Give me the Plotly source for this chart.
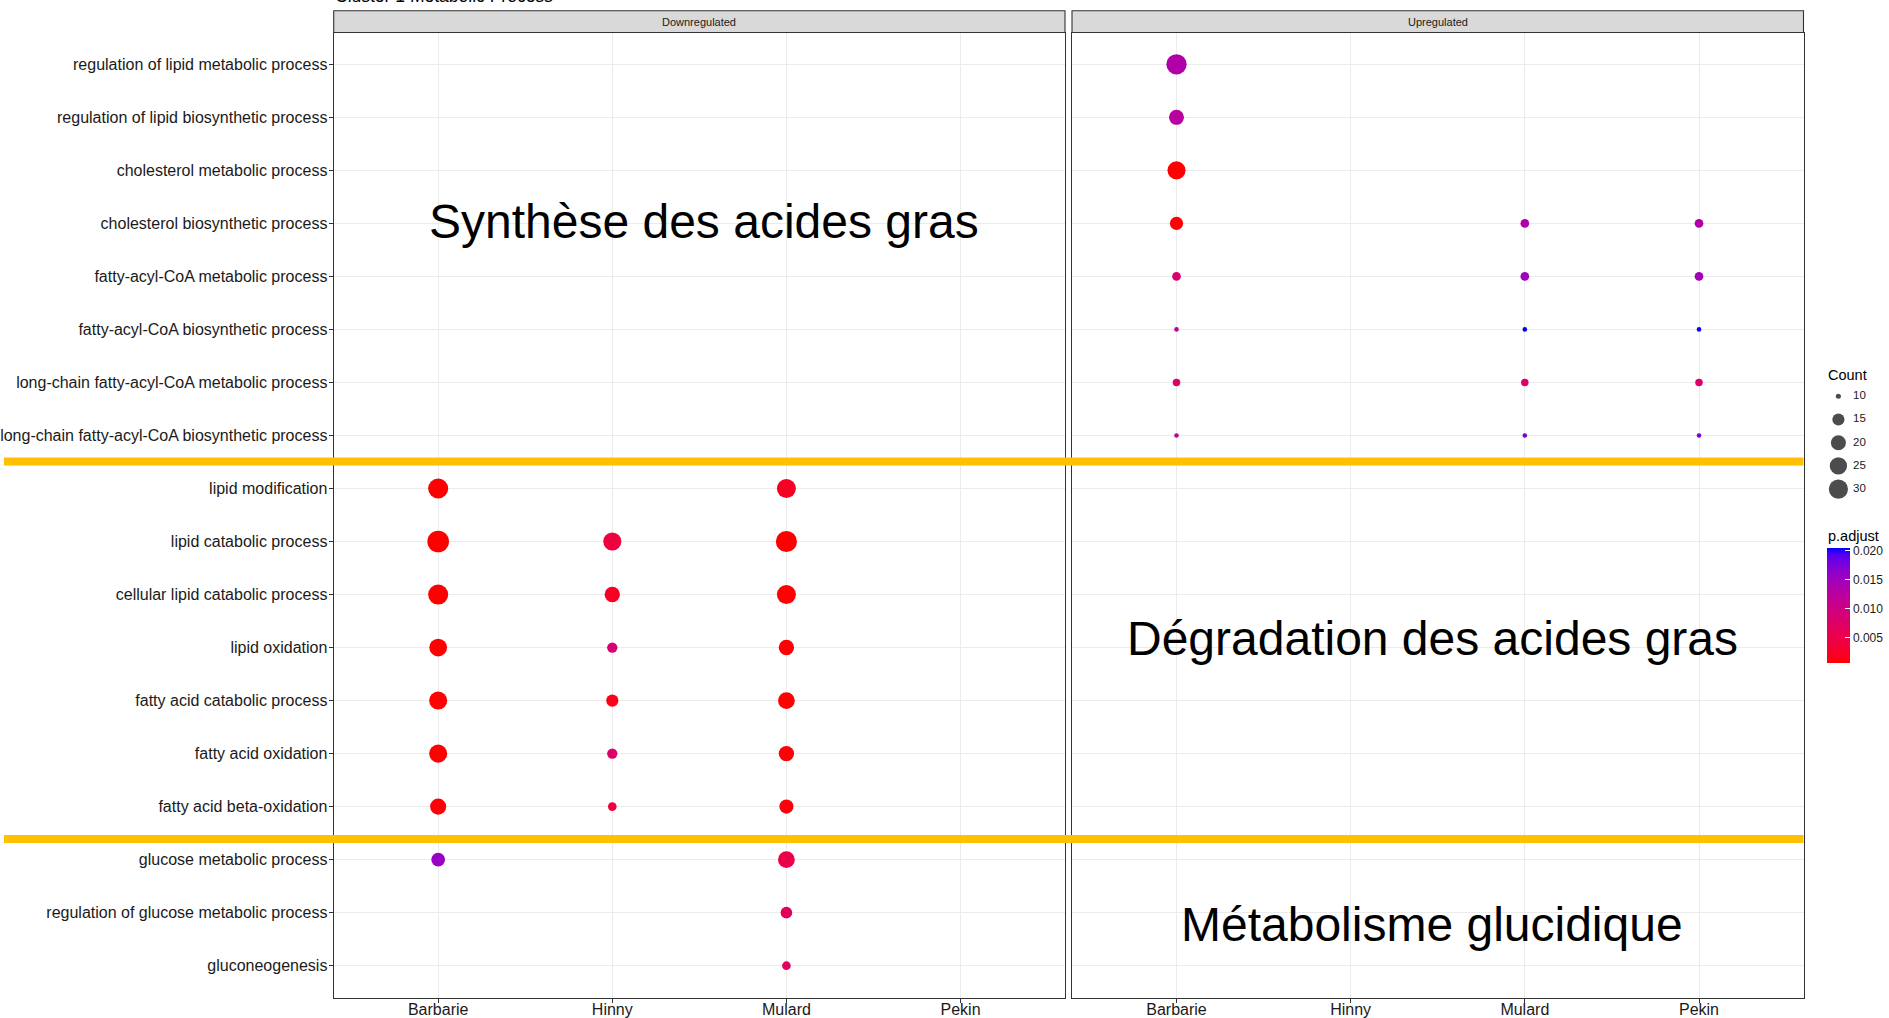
import numpy as np
import plotly.graph_objects as go

# ---------------- data ----------------
TERMS = [
    "regulation of lipid metabolic process",
    "regulation of lipid biosynthetic process",
    "cholesterol metabolic process",
    "cholesterol biosynthetic process",
    "fatty-acyl-CoA metabolic process",
    "fatty-acyl-CoA biosynthetic process",
    "long-chain fatty-acyl-CoA metabolic process",
    "long-chain fatty-acyl-CoA biosynthetic process",
    "lipid modification",
    "lipid catabolic process",
    "cellular lipid catabolic process",
    "lipid oxidation",
    "fatty acid catabolic process",
    "fatty acid oxidation",
    "fatty acid beta-oxidation",
    "glucose metabolic process",
    "regulation of glucose metabolic process",
    "gluconeogenesis",
]
BREEDS = ["Barbarie", "Hinny", "Mulard", "Pekin"]
PANELS = ["Downregulated", "Upregulated"]

down_breed = (["Barbarie"] * 8 + ["Hinny"] * 6 + ["Mulard"] * 10)
down_term = [
    "lipid modification", "lipid catabolic process", "cellular lipid catabolic process",
    "lipid oxidation", "fatty acid catabolic process", "fatty acid oxidation",
    "fatty acid beta-oxidation", "glucose metabolic process",
    "lipid catabolic process", "cellular lipid catabolic process", "lipid oxidation",
    "fatty acid catabolic process", "fatty acid oxidation", "fatty acid beta-oxidation",
    "lipid modification", "lipid catabolic process", "cellular lipid catabolic process",
    "lipid oxidation", "fatty acid catabolic process", "fatty acid oxidation",
    "fatty acid beta-oxidation", "glucose metabolic process",
    "regulation of glucose metabolic process", "gluconeogenesis",
]
down_count = [39, 45, 39, 31, 32, 32, 26, 20,
              32, 24, 14, 17, 14, 12,
              35, 43, 35, 24, 28, 24, 21, 28, 16, 12]
down_padj = [0.0007, 0.0006, 0.0006, 0.0007, 0.0007, 0.0007, 0.0008, 0.0156,
             0.0042, 0.0022, 0.0085, 0.0016, 0.0079, 0.0042,
             0.0022, 0.0006, 0.0007, 0.0008, 0.0007, 0.0009, 0.0010, 0.0050, 0.0065, 0.0066]

up_breed = (["Barbarie"] * 8 + ["Mulard"] * 5 + ["Pekin"] * 5)
up_term = [
    "regulation of lipid metabolic process", "regulation of lipid biosynthetic process",
    "cholesterol metabolic process", "cholesterol biosynthetic process",
    "fatty-acyl-CoA metabolic process", "fatty-acyl-CoA biosynthetic process",
    "long-chain fatty-acyl-CoA metabolic process", "long-chain fatty-acyl-CoA biosynthetic process",
    "cholesterol biosynthetic process", "fatty-acyl-CoA metabolic process",
    "fatty-acyl-CoA biosynthetic process", "long-chain fatty-acyl-CoA metabolic process",
    "long-chain fatty-acyl-CoA biosynthetic process",
    "cholesterol biosynthetic process", "fatty-acyl-CoA metabolic process",
    "fatty-acyl-CoA biosynthetic process", "long-chain fatty-acyl-CoA metabolic process",
    "long-chain fatty-acyl-CoA biosynthetic process",
]
up_count = [40, 23, 32, 19, 12, 10, 11, 10,
            12, 12, 10, 11, 10,
            12, 12, 10, 11, 10]
up_padj = [0.0133, 0.0125, 0.0007, 0.0008, 0.0081, 0.0115, 0.0071, 0.0115,
           0.0135, 0.0149, 0.0204, 0.0075, 0.0176,
           0.0133, 0.0145, 0.0202, 0.0079, 0.0172]

SIZE_BREAKS = [10, 15, 20, 25, 30]
PADJ_TICKS = [0.005, 0.010, 0.015, 0.020]

SECTION_LABELS = ["Synthèse des acides gras", "Dégradation des acides gras", "Métabolisme glucidique"]
TITLE = "Cluster 1 Metabolic Process"

# ---------------- styling helpers ----------------
W, H = 1889, 1018
FONT = "Liberation Sans, Arial, Helvetica, sans-serif"

all_counts = down_count + up_count
all_padj = down_padj + up_padj
CNT_MIN, CNT_MAX = min(all_counts), max(all_counts)
P_MIN, P_MAX = min(all_padj), max(all_padj)


def diam(c):
    c = np.asarray(c, dtype=float)
    frac = np.clip((c - CNT_MIN) / (CNT_MAX - CNT_MIN), 0, 1)
    return 3.4 * (1 + 5 * np.sqrt(frac)) + 1.2


def _lin(u):
    return u / 12.92 if u <= 0.04045 else ((u + 0.055) / 1.055) ** 2.4


def _gam(u):
    u = min(max(u, 0.0), 1.0)
    return 12.92 * u if u <= 0.0031308 else 1.055 * u ** (1 / 2.4) - 0.055


def rgb2lab(r, g, b):
    R, G, B = _lin(r / 255), _lin(g / 255), _lin(b / 255)
    X = 0.4124 * R + 0.3576 * G + 0.1805 * B
    Y = 0.2126 * R + 0.7152 * G + 0.0722 * B
    Z = 0.0193 * R + 0.1192 * G + 0.9505 * B
    Xn, Yn, Zn = 0.95047, 1.0, 1.08883

    def f(t):
        return t ** (1 / 3) if t > 0.008856 else 7.787 * t + 16 / 116
    fx, fy, fz = f(X / Xn), f(Y / Yn), f(Z / Zn)
    return 116 * fy - 16, 500 * (fx - fy), 200 * (fy - fz)


def lab2rgb(L, a, b):
    fy = (L + 16) / 116
    fx = fy + a / 500
    fz = fy - b / 200

    def finv(t):
        return t ** 3 if t ** 3 > 0.008856 else (t - 16 / 116) / 7.787
    X, Y, Z = 0.95047 * finv(fx), finv(fy), 1.08883 * finv(fz)
    R = 3.2406 * X - 1.5372 * Y - 0.4986 * Z
    G = -0.9689 * X + 1.8758 * Y + 0.0415 * Z
    B = 0.0557 * X - 0.2040 * Y + 1.0570 * Z
    return tuple(int(round(255 * _gam(v))) for v in (R, G, B))


lab_lo = rgb2lab(255, 0, 0)
lab_hi = rgb2lab(0, 0, 255)
colorscale = []
for t in np.linspace(0, 1, 21):
    lab = [lo + (hi - lo) * t for lo, hi in zip(lab_lo, lab_hi)]
    r, g, b = lab2rgb(*lab)
    colorscale.append([float(t), f"rgb({r},{g},{b})"])

# panel geometry (pixels -> paper)
PX_L = [(333.7, 1065.0), (1072.0, 1803.5)]
PANEL_TOP, PANEL_BOT = 32.5, 997.5
STRIP_TOP = 10.8


def px(x):
    return x / W


def py(y):
    return 1 - y / H


fig = go.Figure()

for i, (b, t, c, p) in enumerate([(down_breed, down_term, down_count, down_padj),
                                   (up_breed, up_term, up_count, up_padj)]):
    xa = "x" if i == 0 else "x2"
    ya = "y" if i == 0 else "y2"
    fig.add_trace(go.Scatter(
        x=b, y=t, mode="markers", xaxis=xa, yaxis=ya,
        marker=dict(size=diam(c), sizemode="diameter", color=p, coloraxis="coloraxis",
                    line=dict(width=0), opacity=1),
        hoverinfo="x+y+text", text=[f"Count={cc}, p.adjust={pp}" for cc, pp in zip(c, p)],
        showlegend=False,
    ))

# size legend (own axes, drawn without lines)
LEG_X0 = 1826.0
fig.add_trace(go.Scatter(
    x=[1838.4 - LEG_X0] * len(SIZE_BREAKS), y=[str(s) for s in SIZE_BREAKS],
    mode="markers", xaxis="x3", yaxis="y3",
    marker=dict(size=diam(SIZE_BREAKS) * 1.1, sizemode="diameter", color="black", line=dict(width=0)),
    hoverinfo="skip", showlegend=False,
))
fig.add_trace(go.Scatter(
    x=[1853.0 - LEG_X0] * len(SIZE_BREAKS), y=[str(s) for s in SIZE_BREAKS],
    mode="text", text=[str(s) for s in SIZE_BREAKS], textposition="middle right",
    textfont=dict(family=FONT, size=11.5, color="#1A1A1A"),
    marker=dict(size=1), xaxis="x3", yaxis="y3", hoverinfo="skip", showlegend=False,
))

axis_common = dict(
    type="category", showgrid=True, gridcolor="#EBEBEB", gridwidth=1.2,
    showline=True, mirror=True, linecolor="#333333", linewidth=1.2,
    zeroline=False, tickfont=dict(family=FONT, size=16, color="#1A1A1A"),
    ticks="outside", ticklen=4, tickcolor="#333333", tickwidth=1.1,
    fixedrange=True, automargin=False,
)
hidden_axis = dict(showgrid=False, zeroline=False, showline=False, showticklabels=False,
                   ticks="", fixedrange=True, automargin=False)

layout = dict(
    width=W, height=H, margin=dict(l=0, r=0, t=0, b=0, autoexpand=False),
    paper_bgcolor="white", plot_bgcolor="white", showlegend=False,
    font=dict(family=FONT, color="#1A1A1A"),
    xaxis=dict(axis_common, domain=[px(PX_L[0][0]), px(PX_L[0][1])], ticklabelstandoff=-7,
               categoryorder="array", categoryarray=BREEDS, range=[-0.6, 3.6], anchor="y"),
    xaxis2=dict(axis_common, domain=[px(PX_L[1][0]), px(PX_L[1][1])], ticklabelstandoff=-7,
                categoryorder="array", categoryarray=BREEDS, range=[-0.6, 3.6], anchor="y2"),
    yaxis=dict(axis_common, domain=[py(PANEL_BOT), py(PANEL_TOP)], ticklabelstandoff=-2,
               categoryorder="array", categoryarray=TERMS, range=[len(TERMS) - 0.4, -0.6], anchor="x"),
    yaxis2=dict(axis_common, domain=[py(PANEL_BOT), py(PANEL_TOP)],
                categoryorder="array", categoryarray=TERMS, range=[len(TERMS) - 0.4, -0.6],
                anchor="x2", showticklabels=False, ticks=""),
    xaxis3=dict(hidden_axis, domain=[px(LEG_X0), 1.0], range=[0, W - LEG_X0], anchor="y3"),
    yaxis3=dict(hidden_axis, domain=[py(500.7), py(384.7)], type="category",
                categoryorder="array", categoryarray=[str(s) for s in SIZE_BREAKS],
                range=[len(SIZE_BREAKS) - 0.5, -0.5], anchor="x3"),
    coloraxis=dict(
        colorscale=colorscale, cmin=P_MIN, cmax=P_MAX,
        colorbar=dict(
            x=px(1827.0), xanchor="left", xpad=0, y=py(605.5), yanchor="middle", ypad=0,
            len=115, lenmode="pixels", thickness=23, thicknessmode="pixels",
            outlinewidth=0, tickvals=PADJ_TICKS, ticktext=[f"{v:.3f}" for v in PADJ_TICKS],
            ticks="inside", ticklen=5, tickcolor="white", tickwidth=1,
            tickfont=dict(family=FONT, size=12, color="#1A1A1A"), title=dict(text=""),
        ),
    ),
)
fig.update_layout(**layout)

shapes = []
annotations = []
for (x0, x1), name in zip(PX_L, PANELS):
    shapes.append(dict(type="rect", xref="paper", yref="paper",
                       x0=px(x0), x1=px(x1), y0=py(PANEL_TOP), y1=py(STRIP_TOP),
                       fillcolor="#D9D9D9", line=dict(color="#333333", width=1.1)))
    annotations.append(dict(text=name, xref="paper", yref="paper", x=px((x0 + x1) / 2),
                            y=py((PANEL_TOP + STRIP_TOP) / 2), showarrow=False,
                            xanchor="center", yanchor="middle",
                            font=dict(family=FONT, size=11, color="#1A1A1A")))

# yellow separators
for ysep in (461.4, 839.0):
    shapes.append(dict(type="line", xref="paper", yref="paper", x0=px(4.0), x1=px(1803.5),
                       y0=py(ysep), y1=py(ysep), line=dict(color="#FFC000", width=8)))

# section labels
for txt, (cx, cy) in zip(SECTION_LABELS, [(703.5, 221.7), (1432.0, 638.0), (1431.8, 924.0)]):
    annotations.append(dict(text=txt, xref="paper", yref="paper", x=px(cx), y=py(cy),
                            showarrow=False, xanchor="center", yanchor="middle",
                            font=dict(family=FONT, size=48, color="black")))

# title (clipped at top like the reference)
annotations.append(dict(text=TITLE, xref="paper", yref="paper", x=px(333.0), y=py(-4.0),
                        showarrow=False, xanchor="left", yanchor="middle",
                        font=dict(family=FONT, size=17.5, color="black")))

# legend titles
annotations.append(dict(text="Count", xref="paper", yref="paper", x=px(1826.0), y=py(374.7),
                        showarrow=False, xanchor="left", yanchor="middle",
                        font=dict(family=FONT, size=14.5, color="black")))
annotations.append(dict(text="p.adjust", xref="paper", yref="paper", x=px(1826.0), y=py(536.0),
                        showarrow=False, xanchor="left", yanchor="middle",
                        font=dict(family=FONT, size=14.5, color="black")))

fig.update_layout(shapes=shapes, annotations=annotations)

fig.write_html(
    "out.html",
    config={"displayModeBar": False},
    post_script=("document.documentElement.style.margin='0px';"
                 "document.body.style.margin='0px';"
                 "document.documentElement.style.overflow='hidden';"
                 "document.body.style.overflow='hidden';"),
)
